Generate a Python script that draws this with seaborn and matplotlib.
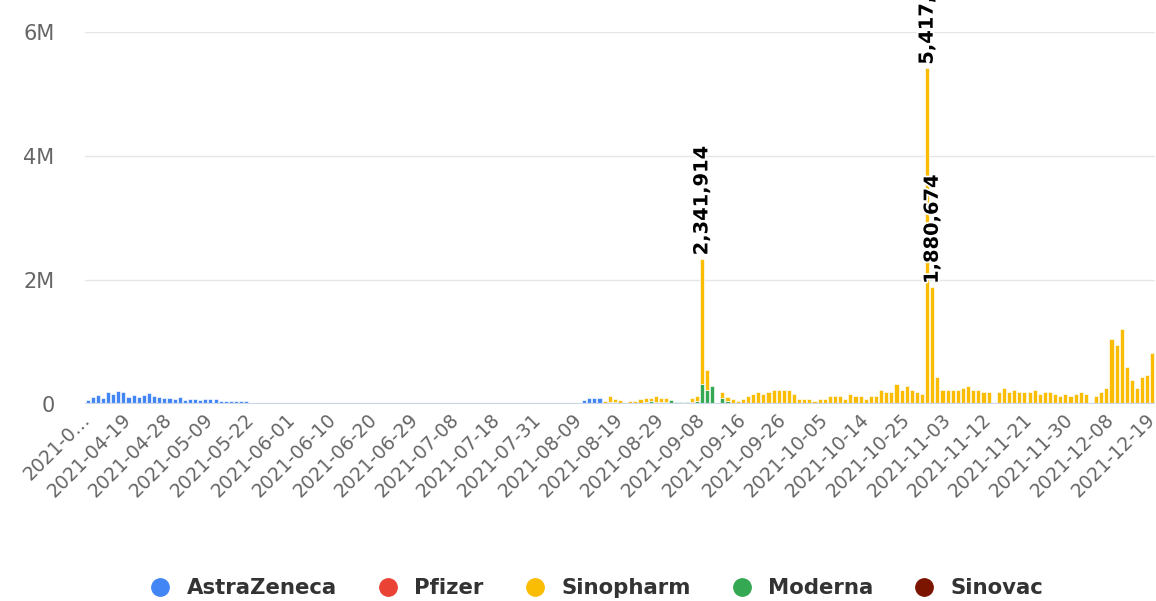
import matplotlib
matplotlib.use("Agg")
import matplotlib.pyplot as plt
import matplotlib.patheffects as pe
from matplotlib.lines import Line2D
import pandas as pd
import seaborn as sns

# ---------------- data ----------------
vaccines = ["AstraZeneca", "Pfizer", "Sinopharm", "Moderna", "Sinovac"]
colors = ["#4285F4", "#EA4335", "#FBBC04", "#34A853", "#7B1500"]

tick_labels = ["2021-0…", "2021-04-19", "2021-04-28", "2021-05-09", "2021-05-22",
               "2021-06-01", "2021-06-10", "2021-06-20", "2021-06-29", "2021-07-08",
               "2021-07-18", "2021-07-31", "2021-08-09", "2021-08-19", "2021-08-29",
               "2021-09-08", "2021-09-16", "2021-09-26", "2021-10-05", "2021-10-14",
               "2021-10-25", "2021-11-03", "2021-11-12", "2021-11-21", "2021-11-30",
               "2021-12-08", "2021-12-19"]
n_categories = 209
label_step = 8

astrazeneca = ([72500, 105200, 137800, 103400, 201600, 169300, 203100, 200800, 106600, 138700,
                104900, 137200, 170100, 136500, 105800, 104300, 103100, 73800, 105500, 72200,
                74400, 73100, 71900, 74600, 72800, 73300, 45200, 44800, 46100, 44300,
                45900, 44700]
               + [0] * 65
               + [68800, 101300, 100100, 102200]
               + [0] * 108)

sinopharm = ([0] * 101
             + [54400, 84600, 40300, 68500, 0, 54100, 53800, 85200, 54500, 54200,
                84900, 54300, 53900, 0, 0, 0, 0, 54600, 84700, 2019914,
                322400, 0, 0, 96800, 60300, 84800, 54200, 85100, 121900, 154200,
                186300, 153800, 185900, 218700, 219300, 218900, 219100, 154400, 84900, 85300,
                84700, 54300, 85000, 84600, 122200, 121700, 122400, 84800, 154100, 121900,
                122300, 84700, 122100, 121800, 219200, 186100, 185800, 315400, 218800, 283300,
                218600, 186400, 154300, 5417283, 1880674, 440200, 229800, 230300, 229600, 230100,
                257400, 294100, 229900, 230400, 197800, 198300, 0, 197900, 257100, 198200,
                230200, 197700, 198100, 197600, 229700, 165300, 198400, 197800, 165100, 133200,
                165400, 132800, 164900, 198000, 165200, 0, 133100, 197900, 257300, 1043600,
                952100, 1204800, 601700, 387300, 257200, 440800, 473100, 827600])

moderna = ([0] * 102
           + [40300, 40100, 0, 0, 0, 0, 0, 40200, 40400, 40000,
              40300, 40100, 68600, 40200, 39900, 40300, 40100, 40400, 322000, 225800,
              290300, 0, 96900, 55800]
           + [0] * 83)

pfizer = [0] * n_categories
sinovac = [0] * n_categories

series = {"AstraZeneca": astrazeneca, "Pfizer": pfizer, "Sinopharm": sinopharm,
          "Moderna": moderna, "Sinovac": sinovac}

rows = []
for name, vals in series.items():
    for i, v in enumerate(vals):
        rows.append({"idx": i, "vaccine": name, "doses": v})
df = pd.DataFrame(rows)
totals = df.groupby("idx")["doses"].sum()

# ---------------- plot ----------------
sns.set_theme(style="white")
plt.rcParams["font.family"] = ["DejaVu Sans"]

fig = plt.figure(figsize=(11.56, 6.01), dpi=100)
ax = fig.add_axes([85 / 1156, 1 - 404 / 601, 1070 / 1156, (404 - 32) / 601])

sns.histplot(data=df, x="idx", weights="doses", hue="vaccine", hue_order=vaccines,
             palette=colors, multiple="stack", discrete=True, shrink=0.8,
             edgecolor="white", linewidth=0.45, alpha=1, legend=False, ax=ax)

for p in list(ax.patches):
    if p.get_height() == 0:
        p.remove()

ax.set_xlim(-0.5, n_categories - 0.5)
ax.set_ylim(0, 6e6)
ax.set_xlabel("")
ax.set_ylabel("")

ax.set_yticks([0, 2e6, 4e6, 6e6])
ax.set_yticklabels(["0", "2M", "4M", "6M"])
ax.yaxis.grid(True, color="#e6e6e6", linewidth=1)
ax.xaxis.grid(False)
ax.set_axisbelow(True)
for s in ax.spines.values():
    s.set_visible(False)
ax.axhline(0, color="#ccd6eb", linewidth=1.6, zorder=5)

ax.set_xticks(list(range(0, n_categories, label_step)))
ax.set_xticklabels(tick_labels, rotation=45, ha="right", va="center",
                   rotation_mode="anchor")
ax.tick_params(axis="x", length=0, pad=9, labelsize=13.6, labelcolor="#666666")
ax.tick_params(axis="y", length=0, pad=22, labelsize=15, labelcolor="#666666")

# data labels on the big bars
for i, tot in totals.items():
    if tot > 1.5e6:
        ax.annotate(f"{tot:,}", xy=(i, tot), xytext=(0, 2.5), textcoords="offset points",
                    rotation=90, ha="center", va="bottom", fontsize=14,
                    fontweight="bold", color="black", annotation_clip=False,
                    path_effects=[pe.withStroke(linewidth=2.5, foreground="white")],
                    zorder=10)

handles = [Line2D([0], [0], marker="o", linestyle="", markersize=12.5,
                  markerfacecolor=c, markeredgecolor=c) for c in colors]
fig.legend(handles, vaccines, loc="center", bbox_to_anchor=(0.517, 0.0216), ncol=5,
           frameon=False, prop={"weight": "bold", "size": 15.3},
           labelcolor="#333333", handlelength=0.8, handletextpad=0.85,
           columnspacing=2.0, borderaxespad=0)

fig.savefig("out.png", dpi=100, facecolor="white")
